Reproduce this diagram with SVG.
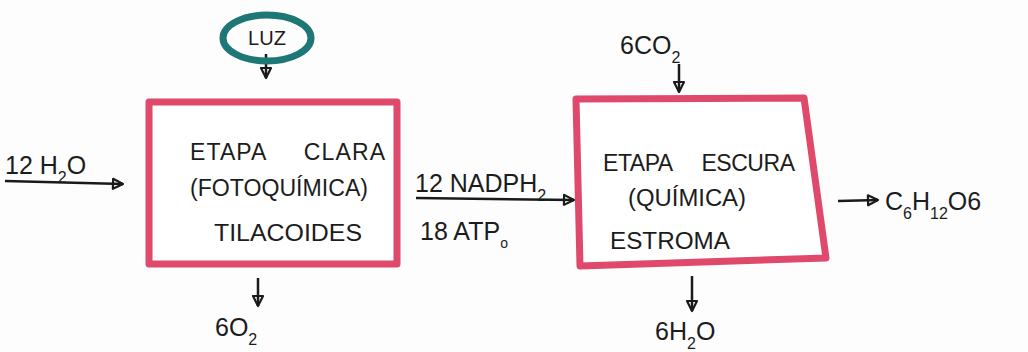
<svg xmlns="http://www.w3.org/2000/svg" width="1028" height="352" viewBox="0 0 1028 352">
<defs>
<marker id="ah" viewBox="0 0 14 14" refX="12" refY="7" markerWidth="14" markerHeight="14" markerUnits="userSpaceOnUse" orient="auto">
<path d="M2,2 L12,7 L2,12 Z" fill="none" stroke="#1a1a1a" stroke-width="2.2" stroke-linejoin="round"/>
</marker>
<style>
text{font-family:"Liberation Sans","DejaVu Sans",sans-serif;fill:#1c1c1c;}
.lbl{font-size:25px;}
.box{font-size:23px;}
.c{stroke:#1a1a1a;stroke-width:2.5;fill:none;marker-end:url(#ah);}
.stage{fill:#ffffff;stroke:#df4a6c;stroke-width:7;stroke-linejoin:round;}
</style>
</defs>
<rect width="1028" height="352" fill="#fdfdfd"/>
<g id="connectors">
<line class="c" x1="5" y1="181" x2="123" y2="184"/>
<line class="c" x1="266" y1="54" x2="266" y2="78"/>
<line class="c" x1="416" y1="198" x2="574" y2="200"/>
<line class="c" x1="679" y1="64" x2="679" y2="92"/>
<line class="c" x1="258" y1="278" x2="258" y2="306"/>
<line class="c" x1="692" y1="276" x2="692" y2="311"/>
<line class="c" x1="838" y1="201" x2="878" y2="200"/>
</g>
<g id="luz">
<ellipse cx="267" cy="38" rx="44" ry="23" fill="none" stroke="#1d7774" stroke-width="7"/>
<text x="267" y="45" text-anchor="middle" style="font-size:20px">LUZ</text>
</g>
<g id="h2o-in">
<text class="lbl" x="5" y="174">12 H<tspan baseline-shift="sub" font-size="16">2</tspan>O</text>
</g>
<g id="etapa-clara">
<rect class="stage" x="149" y="102" width="248" height="162"/>
<text class="box" x="190" y="160" textLength="195" lengthAdjust="spacing" word-spacing="30">ETAPA CLARA</text>
<text class="box" x="190" y="196" textLength="178" lengthAdjust="spacingAndGlyphs">(FOTOQUÍMICA)</text>
<text class="box" x="214" y="241" textLength="148" lengthAdjust="spacingAndGlyphs">TILACOIDES</text>
</g>
<g id="o2-out">
<text class="lbl" x="215" y="336">6O<tspan baseline-shift="sub" font-size="16">2</tspan></text>
</g>
<g id="nadph">
<text class="lbl" x="415" y="192">12 NADPH<tspan baseline-shift="sub" font-size="16">2</tspan></text>
<text class="lbl" x="420" y="240">18 ATP<tspan baseline-shift="sub" font-size="14">o</tspan></text>
</g>
<g id="co2-in">
<text class="lbl" x="620" y="54">6CO<tspan baseline-shift="sub" font-size="16">2</tspan></text>
</g>
<g id="etapa-escura">
<path class="stage" d="M576,99 L804,98 L826,258 L580,266 Z"/>
<text class="box" x="603" y="171" textLength="192" lengthAdjust="spacing" word-spacing="24">ETAPA ESCURA</text>
<text class="box" x="628" y="206" textLength="118" lengthAdjust="spacingAndGlyphs">(QUÍMICA)</text>
<text class="box" x="610" y="249" textLength="120" lengthAdjust="spacingAndGlyphs">ESTROMA</text>
</g>
<g id="h2o-out">
<text class="lbl" x="655" y="340">6H<tspan baseline-shift="sub" font-size="16">2</tspan>O</text>
</g>
<g id="glucose">
<text class="lbl" x="885" y="210">C<tspan baseline-shift="sub" font-size="16">6</tspan>H<tspan baseline-shift="sub" font-size="16">12</tspan>O<tspan>6</tspan></text>
</g>
</svg>
